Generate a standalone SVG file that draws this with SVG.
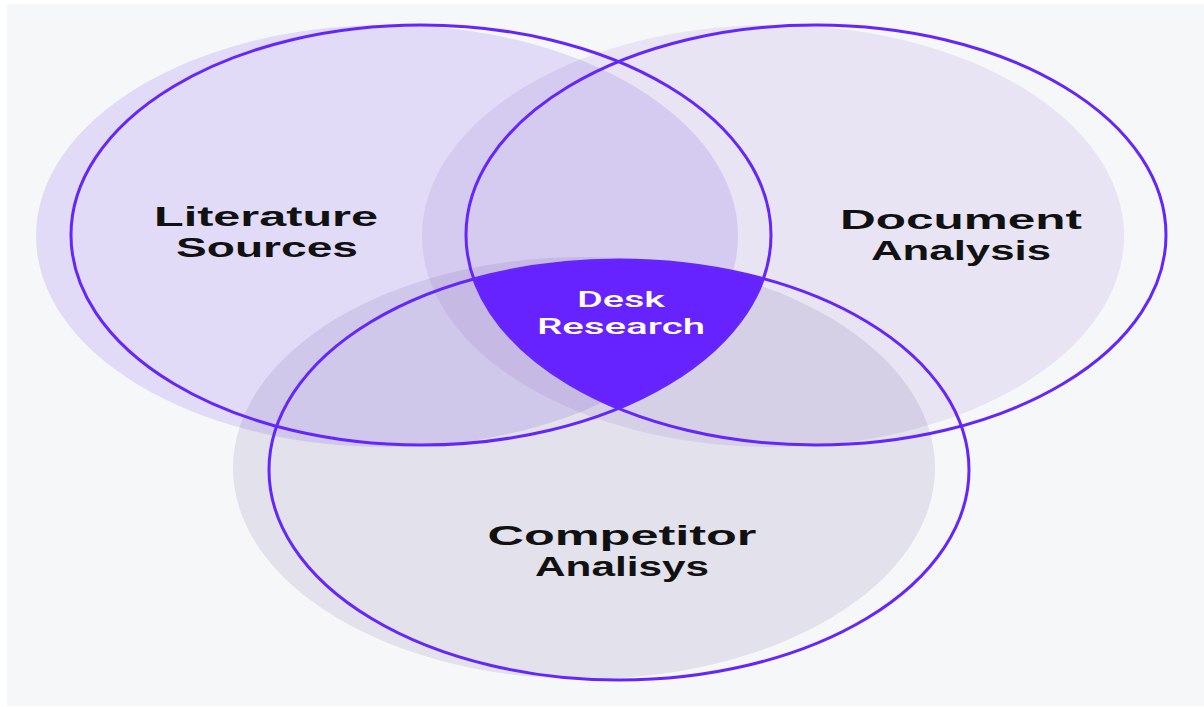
<svg xmlns="http://www.w3.org/2000/svg" width="1204" height="707" viewBox="0 0 1204 707">
  <style>
    .ring { fill: none; stroke: #6526fd; stroke-width: 3; }
    .label { font-family: "Liberation Sans", Arial, sans-serif; font-weight: 700; font-size: 27px; fill: #111111; text-anchor: middle; }
    .core { font-family: Roboto, "Liberation Sans", sans-serif; font-weight: 500; font-size: 22px; fill: #ffffff; text-anchor: middle; }
  </style>
  <defs>
    <clipPath id="clipLit"><ellipse cx="421" cy="235" rx="350" ry="210"/></clipPath>
    <clipPath id="clipDoc"><ellipse cx="816" cy="235" rx="350" ry="210"/></clipPath>
  </defs>
  <rect x="0" y="0" width="1204" height="707" fill="#ffffff"/>
  <rect x="7" y="4" width="1197" height="702" fill="#f6f7f9"/>

  <g id="literature-sources">
    <ellipse cx="387" cy="236" rx="351" ry="211" fill="#6030f2" fill-opacity="0.14"/>
  </g>
  <g id="document-analysis">
    <ellipse cx="773" cy="236" rx="351" ry="211" fill="#6a43c7" fill-opacity="0.1"/>
  </g>
  <g id="competitor-analisys">
    <ellipse cx="584" cy="468" rx="351" ry="211" fill="#58408d" fill-opacity="0.12"/>
  </g>

  <g id="desk-research">
    <g clip-path="url(#clipLit)">
      <g clip-path="url(#clipDoc)">
        <ellipse cx="619" cy="470" rx="350" ry="210" fill="#6623ff"/>
      </g>
    </g>
  </g>

  <g id="connectors">
    <ellipse class="ring" cx="421" cy="235" rx="350" ry="210"/>
    <ellipse class="ring" cx="816" cy="235" rx="350" ry="210"/>
    <ellipse class="ring" cx="619" cy="470" rx="350" ry="210"/>
  </g>

  <g id="labels">
    <text class="label" x="266" y="226" textLength="224" lengthAdjust="spacingAndGlyphs">Literature</text>
    <text class="label" x="267" y="257" textLength="182" lengthAdjust="spacingAndGlyphs">Sources</text>
    <text class="label" x="961" y="229" textLength="242" lengthAdjust="spacingAndGlyphs">Document</text>
    <text class="label" x="961" y="260" textLength="180" lengthAdjust="spacingAndGlyphs">Analysis</text>
    <text class="label" x="622" y="545" textLength="269" lengthAdjust="spacingAndGlyphs">Competitor</text>
    <text class="label" x="622" y="576" textLength="174" lengthAdjust="spacingAndGlyphs">Analisys</text>
    <text class="core" x="621" y="307" textLength="88" lengthAdjust="spacingAndGlyphs">Desk</text>
    <text class="core" x="621" y="334" textLength="168" lengthAdjust="spacingAndGlyphs">Research</text>
  </g>
</svg>
